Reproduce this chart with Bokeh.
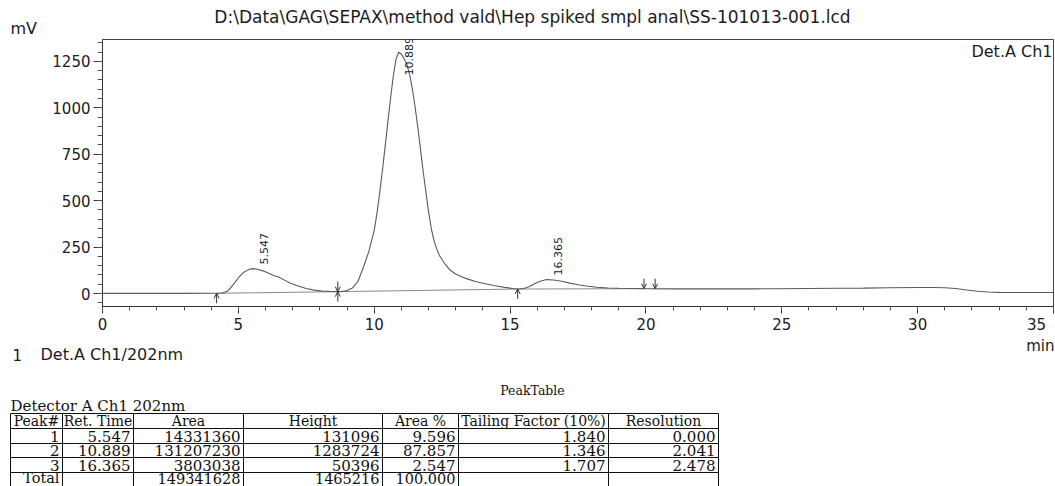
import numpy as np
from bokeh.plotting import figure
from bokeh.layouts import column
from bokeh.models import Range1d, SingleIntervalTicker, ColumnDataSource, Arrow, OpenHead
from bokeh.core.properties import value
from bokeh.embed import file_html
from bokeh.resources import INLINE

# ---------------- data ----------------
TITLE = r"D:\Data\GAG\SEPAX\method vald\Hep spiked smpl anal\SS-101013-001.lcd"

SIGNAL_T = [0, 1, 2, 3, 4, 4.2, 4.4, 4.6, 4.8, 5.0, 5.2, 5.4, 5.55, 5.7, 5.9, 6.1, 6.3, 6.5, 6.7, 6.9,
            7.2, 7.5, 7.8, 8.1, 8.4, 8.66, 8.8, 9.0, 9.2, 9.4, 9.6, 9.8, 10.0, 10.1, 10.2, 10.3, 10.4,
            10.5, 10.6, 10.7, 10.8, 10.9, 11.0, 11.1, 11.2, 11.3, 11.4, 11.5, 11.6, 11.7, 11.8, 11.9,
            12.0, 12.1, 12.2, 12.3, 12.4, 12.6, 12.8, 13.0, 13.2, 13.4, 13.7, 14.0, 14.4, 14.8, 15.1,
            15.28, 15.5, 15.7, 15.9, 16.1, 16.35, 16.6, 16.9, 17.2, 17.5, 17.8, 18.2, 18.6, 19.0, 19.5,
            20.0, 21, 22, 23, 24, 24.8, 26, 27, 28, 29, 30, 30.6, 31.0, 31.4, 31.8, 32.2, 32.6, 33, 34, 35]
SIGNAL_MV = [0.5, 0.5, 0.8, 0.8, 1, 1, 3, 12, 45, 85, 115, 130, 134, 131, 122, 110, 97, 87, 72, 56,
             40, 27, 18, 13, 11, 10, 11, 16, 30, 65, 140, 225, 340, 430, 540, 660, 790,
             920, 1050, 1170, 1260, 1299, 1290, 1265, 1235, 1180, 1105, 1010, 900, 780, 660, 550,
             440, 350, 285, 240, 205, 160, 125, 105, 92, 80, 66, 55, 43, 33, 27,
             24, 27, 36, 52, 66, 75, 73, 66, 56, 47, 40, 34, 30, 28, 27,
             26, 25, 25, 25, 25, 26, 27, 28, 29, 31, 32, 32, 31, 27, 19, 12, 8, 6, 5, 5]

BASE_T = [4.20, 8.66, 15.28, 19.93]
BASE_MV = [1, 10, 24, 26]

EVENT_UP_T = [4.20, 8.66, 15.28]
EVENT_DOWN_T = [8.66, 19.93, 20.34]

PEAK_NO = ["1", "2", "3"]
RET_TIME = ["5.547", "10.889", "16.365"]
AREA = ["14331360", "131207230", "3803038"]
HEIGHT = ["131096", "1283724", "50396"]
AREA_PCT = ["9.596", "87.857", "2.547"]
TAILING = ["1.840", "1.346", "1.707"]
RESOLUTION = ["0.000", "2.041", "2.478"]
TOTAL_ROW = ["Total", "", "149341628", "1465216", "100.000", "", ""]
HEADERS = ["Peak#", "Ret. Time", "Area", "Height", "Area %", "Tailing Factor (10%)", "Resolution"]

X_MIN, X_MAX = 0, 35
Y_MIN, Y_MAX = -70, 1368

# ---------------- layout constants ----------------
W = 1055
HEAD_H = 38
CHART_H = 298
MB_TOP, MB_BOT, MB_LEFT, MB_RIGHT = 1, 30, 102, 2
TABLE_TOP = HEAD_H + CHART_H
TABLE_H = 486 - TABLE_TOP
FRAME_H = CHART_H - MB_TOP - MB_BOT
PX_PER_MV = FRAME_H / (Y_MAX - Y_MIN)

SANS = value("DejaVu Sans")
SERIF = value("DejaVu Serif")
TXT = "#1b1b24"
LINE = "#5a5a5a"

# ---------------- header ----------------
header = figure(width=W, height=HEAD_H, x_range=Range1d(0, W), y_range=Range1d(HEAD_H, 0),
                min_border=0, toolbar_location=None, output_backend="svg", frame_align=False,
                x_axis_location=None, y_axis_location=None, outline_line_color=None)
header.grid.visible = False
header.text(x=[532], y=[16], text=[TITLE], text_align="center", text_baseline="middle",
            text_font=SANS, text_font_size="17px", text_color=TXT)
header.text(x=[10], y=[28], text=["mV"], text_align="left", text_baseline="middle",
            text_font=SANS, text_font_size="16px", text_color=TXT)

# ---------------- chart ----------------
p = figure(width=W, height=CHART_H, x_range=Range1d(X_MIN, X_MAX), y_range=Range1d(Y_MIN, Y_MAX),
           min_border_left=MB_LEFT, min_border_right=MB_RIGHT, min_border_top=MB_TOP,
           min_border_bottom=MB_BOT, toolbar_location=None, output_backend="svg",
           frame_align=False, outline_line_color="#444444", background_fill_color="white")
p.grid.visible = False

p.xaxis.ticker = SingleIntervalTicker(interval=5, num_minor_ticks=5)
p.yaxis.ticker = SingleIntervalTicker(interval=250, num_minor_ticks=5)
p.xaxis.major_label_overrides = {35: "35\u00a0\u00a0"}
for ax in (p.xaxis[0], p.yaxis[0]):
    ax.axis_line_color = "#333333"
    ax.major_tick_line_color = "#333333"
    ax.minor_tick_line_color = "#555555"
    ax.major_tick_in = 0
    ax.minor_tick_in = 0
    ax.major_label_text_font = "DejaVu Sans"
    ax.major_label_text_font_size = "15px"
    ax.major_label_text_color = TXT
p.xaxis.major_tick_out = 7
p.xaxis.minor_tick_out = 4
p.xaxis.major_label_standoff = 2
p.yaxis.major_tick_out = 9
p.yaxis.minor_tick_out = 5
p.yaxis.major_label_standoff = 3

# integration baseline
p.line(BASE_T, BASE_MV, line_color="#8a8a8a", line_width=1)
# chromatogram
p.line(SIGNAL_T, SIGNAL_MV, line_color=LINE, line_width=1.1)

# event arrows
arrow_len = 10 / PX_PER_MV
up_y = np.interp(EVENT_UP_T, SIGNAL_T, SIGNAL_MV)
dn_y = np.interp(EVENT_DOWN_T, SIGNAL_T, SIGNAL_MV)
up_src = ColumnDataSource(dict(x0=EVENT_UP_T, y0=up_y - arrow_len, x1=EVENT_UP_T, y1=up_y))
dn_src = ColumnDataSource(dict(x0=EVENT_DOWN_T, y0=dn_y + arrow_len, x1=EVENT_DOWN_T, y1=dn_y))
for src in (up_src, dn_src):
    p.add_layout(Arrow(end=OpenHead(size=5, line_color="#333333", line_width=1),
                       x_start="x0", y_start="y0", x_end="x1", y_end="y1",
                       line_color="#333333", line_width=1, source=src))

# peak labels (rotated)
rt = [float(v) for v in RET_TIME]
tops = [float(h) / 1000 + b for h, b in zip(HEIGHT, np.interp(rt, BASE_T, BASE_MV))]
label_y = [min(t + 4 / PX_PER_MV, Y_MAX - 36 / PX_PER_MV) for t in tops]
p.text(x=rt, y=label_y, text=RET_TIME, angle=np.pi / 2, text_align="left",
       text_baseline="middle", x_offset=11, text_font=SANS, text_font_size="11px",
       text_color=TXT)

# channel label top-right
p.text(x=[X_MAX], y=[Y_MAX], text=["Det.A Ch1"], text_align="right", text_baseline="top",
       x_offset=-1, y_offset=2, text_font=SANS, text_font_size="16px", text_color=TXT)

# ---------------- table / footer ----------------
t = figure(width=W, height=TABLE_H, x_range=Range1d(0, W), y_range=Range1d(486, TABLE_TOP),
           min_border=0, toolbar_location=None, output_backend="svg", frame_align=False,
           x_axis_location=None, y_axis_location=None, outline_line_color=None)
t.grid.visible = False

t.text(x=[W - 1], y=[345], text=["min"], text_align="right", text_baseline="middle",
       text_font=SANS, text_font_size="15px", text_color=TXT)
t.text(x=[12], y=[354], text=["1"], text_align="left", text_baseline="middle",
       text_font=SANS, text_font_size="15px", text_color=TXT)
t.text(x=[40], y=[354], text=["Det.A Ch1/202nm"], text_align="left", text_baseline="middle",
       text_font=SANS, text_font_size="16px", text_color=TXT)

t.text(x=[532], y=[390], text=["PeakTable"], text_align="center", text_baseline="middle",
       text_font=SERIF, text_font_size="12.5px", text_color="#111111")
t.text(x=[10], y=[405], text=["Detector A Ch1 202nm"], text_align="left", text_baseline="middle",
       text_font=SERIF, text_font_size="15px", text_color="#111111")

COL_X = [10, 62, 133, 243, 382, 458, 608, 718]
ROW_Y = [413, 428, 443, 457, 472, 486.5]
t.segment(x0=COL_X, y0=[ROW_Y[0]] * len(COL_X), x1=COL_X, y1=[ROW_Y[-1] + 2] * len(COL_X),
          line_color="#111111", line_width=1)
t.segment(x0=[COL_X[0]] * (len(ROW_Y) - 1), y0=ROW_Y[:-1], x1=[COL_X[-1]] * (len(ROW_Y) - 1),
          y1=ROW_Y[:-1], line_color="#111111", line_width=1)

row_mid = [min((a + b) / 2, 477.5) for a, b in zip(ROW_Y[:-1], ROW_Y[1:])]
col_mid = [(a + b) / 2 for a, b in zip(COL_X[:-1], COL_X[1:])]
t.text(x=col_mid, y=[row_mid[0]] * len(HEADERS), text=HEADERS, text_align="center",
       text_baseline="middle", text_font=SERIF, text_font_size="14px", text_color="#111111")

rows = list(zip(PEAK_NO, RET_TIME, AREA, HEIGHT, AREA_PCT, TAILING, RESOLUTION))
xs, ys, txt = [], [], []
for ri, row in enumerate(rows):
    for ci, cell in enumerate(row):
        if cell:
            xs.append(COL_X[ci + 1] - 3)
            ys.append(row_mid[ri + 1])
            txt.append(cell)
t.text(x=xs, y=ys, text=txt, text_align="right", text_baseline="middle",
       text_font=SERIF, text_font_size="15px", text_color="#111111")

tx = [COL_X[ci + 1] - 3 for ci, cell in enumerate(TOTAL_ROW) if cell]
tt = [cell for cell in TOTAL_ROW if cell]
t.text(x=tx, y=[row_mid[-1]] * len(tt), text=tt, text_align="right", text_baseline="middle",
       text_font=SERIF, text_font_size="14.5px", text_color="#111111")

layout = column(header, p, t, spacing=0)
open("out.html", "w").write(file_html(layout, INLINE))
